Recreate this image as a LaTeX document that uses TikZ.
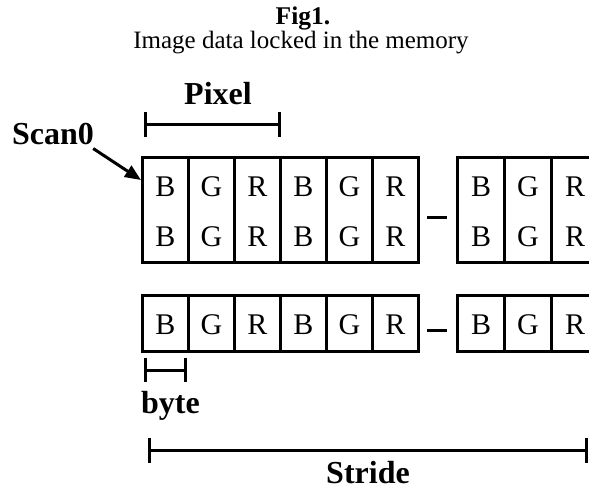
\documentclass[tikz,border=0pt]{standalone}
\usepackage{fontspec}
\setmainfont{Liberation Serif}
\usetikzlibrary{arrows.meta}
\begin{document}
\begin{tikzpicture}[x=1pt,y=-1pt,
  cellbox/.style={draw,line width=3pt,minimum width=46pt,anchor=north west,inner sep=0pt,outer sep=0pt},
  letter/.style={anchor=base,inner sep=0pt,font=\fontsize{30}{30}\selectfont},
  lbl/.style={anchor=base,inner sep=0pt,font=\fontsize{32}{32}\selectfont\bfseries},
  dimbar/.style={line width=3pt,{Bar[width=25pt]}-{Bar[width=25pt]}},
  dashline/.style={line width=3pt},
  pointer/.style={line width=3pt,-{Triangle[length=16pt,width=13pt]}}]
\useasboundingbox (0,0) rectangle (589,489);
\clip (0,0) rectangle (589,489);
% titles
\node[anchor=base,inner sep=0pt,font=\fontsize{25.5}{25.5}\selectfont\bfseries] (fig) at (303,25) {Fig1.};
\node[anchor=base,inner sep=0pt,font=\fontsize{25}{25}\selectfont] (title) at (301,49) {Image data locked in the memory};
% top block
\foreach \i/\c in {1/B,2/G,3/R,4/B,5/G,6/R}{
  \node[cellbox,minimum height=104pt] (a\i) at ({142+46*(\i-1)},158) {};
  \node[letter] (at\i) at ({165.5+46*(\i-1)},197) {\c};
  \node[letter] (ab\i) at ({165.5+46*(\i-1)},247) {\c};
}
\foreach \i/\c in {7/B,8/G,9/R}{
  \node[cellbox,minimum height=104pt,minimum width=47pt] (a\i) at ({457+47*(\i-7)},158) {};
  \node[letter] (at\i) at ({481+47*(\i-7)},197) {\c};
  \node[letter] (ab\i) at ({481+47*(\i-7)},247) {\c};
}
% bottom block
\foreach \i/\c in {1/B,2/G,3/R,4/B,5/G,6/R}{
  \node[cellbox,minimum height=56pt] (b\i) at ({142+46*(\i-1)},295) {};
  \node[letter] (bt\i) at ({165.5+46*(\i-1)},334) {\c};
}
\foreach \i/\c in {7/B,8/G,9/R}{
  \node[cellbox,minimum height=56pt,minimum width=47pt] (b\i) at ({457+47*(\i-7)},295) {};
  \node[letter] (bt\i) at ({481+47*(\i-7)},334) {\c};
}
% dashes between blocks
\coordinate (d1a) at (427,218); \coordinate (d1b) at (447,218);
\coordinate (d2a) at (427,330); \coordinate (d2b) at (447,330);
\draw[dashline] (d1a) -- (d1b);
\draw[dashline] (d2a) -- (d2b);
% labels
\node[lbl] (pixel) at (218,105) {Pixel};
\node[lbl,anchor=base west] (scan) at (12,145) {Scan0};
\node[lbl,anchor=base west] (byte) at (141,413) {byte};
\node[lbl] (stride) at (368,483) {Stride};
% dimension bars
\coordinate (p1) at (143.5,125); \coordinate (p2) at (280.5,125);
\draw[dimbar] (p1) -- (p2);
\coordinate (y1) at (143.5,370); \coordinate (y2) at (187,370);
\draw[line width=3pt,{Bar[width=24pt]}-{Bar[width=24pt]}] (y1) -- (y2);
\coordinate (s1) at (147.5,450); \coordinate (s2) at (587.5,450);
\draw[dimbar] (s1) -- (s2);
% Scan0 pointer
\coordinate (tip) at (141,180);
\draw[pointer] ([shift={(-1,3)}]scan.south east) -- (tip);
\end{tikzpicture}
\end{document}
